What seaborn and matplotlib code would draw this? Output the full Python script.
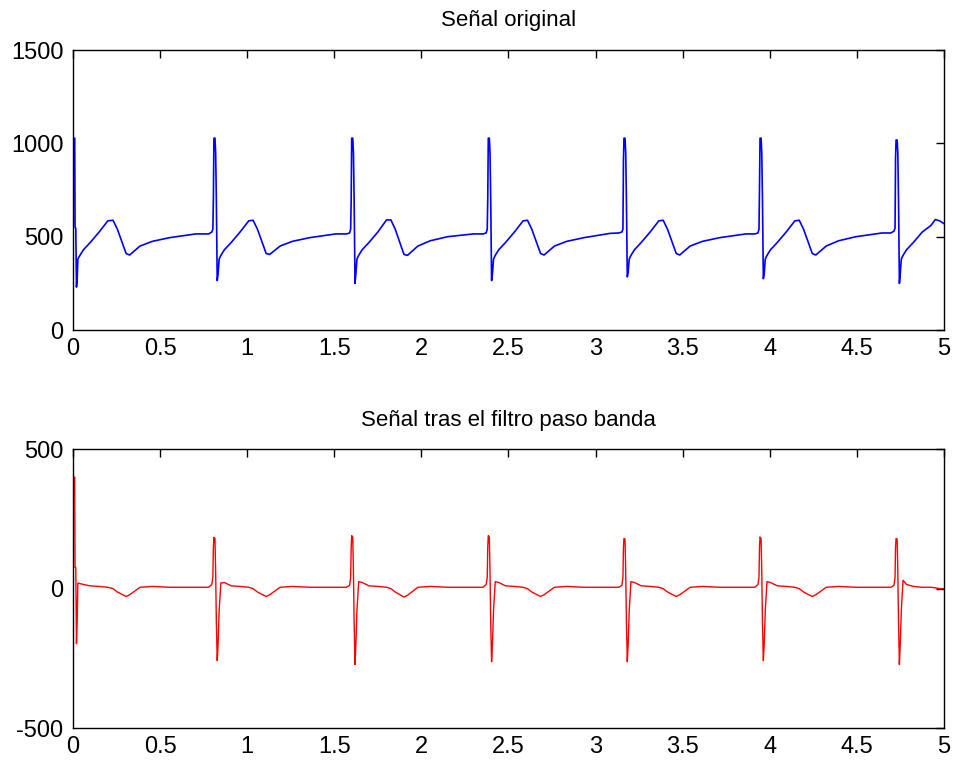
# ECG: original signal and band-pass filtered signal (MATLAB-style subplots)

import numpy as np
import pandas as pd
import matplotlib
matplotlib.use("Agg")
import matplotlib.pyplot as plt
import seaborn as sns

# time (s), shared by both signals, one row per beat
t = [
    0.000, 0.010, 0.012, 0.016, 0.020, 0.024, 0.028, 0.040, 0.060, 0.100, 0.150, 0.200, 0.230, 0.255, 0.305, 0.325, 0.385, 0.455, 0.555, 0.705,
    0.779, 0.797, 0.803, 0.806, 0.809, 0.815, 0.819, 0.823, 0.828, 0.833, 0.839, 0.849, 0.869, 0.909, 0.959, 1.009, 1.034, 1.059, 1.109, 1.129, 1.189, 1.259, 1.359, 1.509,
    1.570, 1.588, 1.594, 1.597, 1.600, 1.606, 1.610, 1.614, 1.619, 1.624, 1.630, 1.640, 1.660, 1.700, 1.750, 1.800, 1.825, 1.850, 1.900, 1.920, 1.980, 2.050, 2.150, 2.300,
    2.354, 2.372, 2.378, 2.381, 2.384, 2.390, 2.394, 2.398, 2.403, 2.408, 2.414, 2.424, 2.444, 2.484, 2.534, 2.584, 2.609, 2.634, 2.684, 2.704, 2.764, 2.834, 2.934, 3.084,
    3.133, 3.151, 3.157, 3.160, 3.163, 3.169, 3.173, 3.177, 3.182, 3.187, 3.193, 3.203, 3.223, 3.263, 3.313, 3.363, 3.388, 3.413, 3.463, 3.483, 3.543, 3.613, 3.713, 3.863,
    3.914, 3.932, 3.938, 3.941, 3.944, 3.950, 3.954, 3.958, 3.963, 3.968, 3.974, 3.984, 4.004, 4.044, 4.094, 4.144, 4.169, 4.194, 4.244, 4.264, 4.324, 4.394, 4.494, 4.644,
    4.695, 4.713, 4.719, 4.722, 4.725, 4.731, 4.735, 4.739, 4.744, 4.749, 4.755, 4.765, 4.785, 4.825, 4.875, 4.925, 4.950, 4.975, 5.000,
]

original = [
    1020, 1028, 550, 545, 230, 270, 380, 400, 430, 470, 525, 585, 588, 540, 410, 402, 450, 475, 495, 515,
    515, 525, 540, 700, 1028, 1028, 950, 700, 265, 300, 380, 400, 430, 470, 525, 585, 588, 540, 410, 405, 450, 475, 495, 515,
    515, 520, 540, 700, 1028, 1028, 950, 700, 250, 300, 380, 400, 430, 470, 525, 590, 590, 540, 405, 400, 450, 478, 500, 515,
    515, 520, 540, 700, 1028, 1028, 950, 700, 265, 300, 380, 400, 430, 470, 525, 585, 588, 540, 410, 402, 450, 475, 495, 518,
    520, 525, 540, 910, 1028, 1028, 950, 700, 285, 310, 380, 400, 430, 470, 525, 585, 588, 540, 410, 402, 450, 475, 495, 515,
    515, 520, 540, 760, 1028, 1028, 950, 700, 275, 300, 380, 400, 430, 470, 525, 585, 588, 540, 410, 402, 450, 478, 500, 520,
    520, 530, 545, 920, 1018, 1018, 950, 700, 250, 300, 380, 400, 430, 470, 525, 560, 592, 585, 570,
]

filtered = [
    400, 400, 76, 76, -197, -120, 20, 18, 15, 10, 8, 5, 0, -12, -28, -22, 5, 8, 5, 5,
    5, 15, 40, 150, 184, 180, 60, -120, -258, -200, -80, 20, 22, 10, 8, 5, 0, -12, -28, -22, 5, 8, 5, 5,
    5, 12, 40, 150, 190, 185, 60, -120, -272, -200, -80, 25, 22, 10, 8, 5, 0, -12, -30, -24, 5, 8, 5, 5,
    5, 15, 40, 150, 190, 185, 60, -120, -262, -200, -80, 25, 22, 10, 8, 5, 0, -12, -28, -22, 5, 8, 5, 5,
    5, 12, 40, 150, 180, 178, 60, -120, -262, -200, -80, 25, 22, 10, 8, 5, 0, -12, -28, -22, 5, 8, 5, 5,
    5, 15, 40, 150, 185, 180, 60, -120, -258, -200, -80, 25, 22, 10, 8, 5, 0, -12, -28, -22, 5, 8, 5, 5,
    5, 12, 40, 150, 180, 178, 60, -120, -272, -200, -80, 30, 15, 8, 5, 5, 3, 0, 0,
]

titles = ["Señal original", "Señal tras el filtro paso banda"]

sns.set_theme(style="white")
plt.rcParams["font.family"] = ["Liberation Sans", "DejaVu Sans"]
plt.rcParams.update({
    "xtick.direction": "in", "ytick.direction": "in",
    "xtick.top": True, "ytick.right": True,
    "xtick.labelsize": 17, "ytick.labelsize": 17,
    "axes.edgecolor": "black", "axes.linewidth": 1.0,
    "axes.unicode_minus": False,
    "text.color": "black", "axes.titlecolor": "black",
})

df = pd.DataFrame({"t": t, "original": original, "filtered": filtered})

fig = plt.figure(figsize=(9.54, 7.64), dpi=100)
ax1 = fig.add_axes([0.0765, 0.568, 0.913, 0.3665])
ax2 = fig.add_axes([0.0765, 0.047, 0.913, 0.365])

sns.lineplot(data=df, x="t", y="original", ax=ax1, color="#0000ff",
             linewidth=1.2, estimator=None, sort=False)
sns.lineplot(data=df, x="t", y="filtered", ax=ax2, color="#ff0000",
             linewidth=1.0, estimator=None, sort=False)

ax1.set_ylim(0, 1500)
ax1.set_yticks([0, 500, 1000, 1500])
ax2.set_ylim(-500, 500)
ax2.set_yticks([-500, 0, 500])

for ax, title in zip([ax1, ax2], titles):
    ax.set_xlim(0, 5)
    ax.set_xticks(np.arange(0, 5.01, 0.5))
    ax.set_xticklabels(["0", "0.5", "1", "1.5", "2", "2.5", "3", "3.5", "4", "4.5", "5"])
    ax.set_xlabel("")
    ax.set_ylabel("")
    ax.set_title(title, fontsize=16, pad=17, color="black")
    ax.tick_params(axis="y", length=6, width=1, color="black", labelcolor="black", pad=7)
    ax.tick_params(axis="x", length=6, width=1, color="black", labelcolor="black", pad=6)
    for s in ax.spines.values():
        s.set_visible(True)
        s.set_color("black")

fig.savefig("out.png", dpi=100, facecolor="white")
